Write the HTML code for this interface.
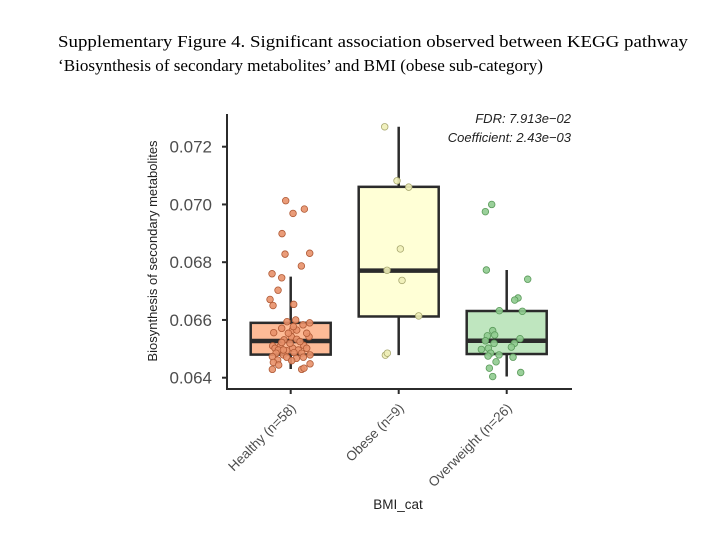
<!DOCTYPE html>
<html><head><meta charset="utf-8"><style>
html,body{margin:0;padding:0;background:#fff;}
svg{display:block;}
</style></head><body>
<svg id="chart" width="720" height="540" xmlns="http://www.w3.org/2000/svg">
<rect width="720" height="540" fill="#fff"/>
<text x="58" y="47" font-family="Liberation Serif, serif" font-size="17" textLength="630" lengthAdjust="spacingAndGlyphs">Supplementary Figure 4. Significant association observed between KEGG pathway</text>
<text x="58" y="71" font-family="Liberation Serif, serif" font-size="17" textLength="485" lengthAdjust="spacingAndGlyphs">‘Biosynthesis of secondary metabolites’ and BMI (obese sub-category)</text>
<g id="plot"></g>
</svg>
<script>
const categories = ["Healthy (n=58)", "Obese (n=9)", "Overweight (n=26)"];
const fills = ["#fdbb97", "#ffffd6", "#bfe6bf"];
const pointFills = ["#e8916a", "#f0f0b8", "#8fcb8f"];
const pointStrokes = ["#b05a36", "#a8a870", "#5a9a5a"];
const yTicks = [0.064, 0.066, 0.068, 0.070, 0.072];
const yTickLabels = ["0.064", "0.066", "0.068", "0.070", "0.072"];
const q1 = [0.0648, 0.06612, 0.06482];
const q3 = [0.0659, 0.07061, 0.06631];
const medians = [0.06527, 0.06771, 0.06528];
const whiskLow = [0.0643, 0.06478, 0.06404];
const whiskHigh = [0.0675, 0.07269, 0.06773];
const healthyVals = [0.07013,0.06984,0.06969,0.06899,0.06828,0.06831,0.06787,0.0676,0.06746,0.06703,0.06671,0.0665,0.06654,0.06594,0.066,0.0659,0.06583,0.06571,0.06565,0.06556,0.06542,0.06542,0.06533,0.06531,0.0651,0.06508,0.06512,0.06502,0.06502,0.06502,0.06496,0.06494,0.06496,0.06485,0.06485,0.06479,0.06487,0.06473,0.06479,0.06471,0.06467,0.06471,0.06461,0.06453,0.06459,0.06444,0.06448,0.06429,0.06429,0.06433,0.06519,0.06525,0.06522,0.06554,0.06565,0.06554,0.06577,0.06496];
const healthyJitter = [-15,41,7,-26,-17,57,32,-56,-27,-38,-62,-53,9,-11,15,57,37,-27,5,-51,55,2,18,-20,-54,-32,39,-47,6,48,-37,-12,23,-44,33,-22,10,-55,58,-12,17,38,-39,-52,3,-36,58,-55,33,40,-2,28,-27,-7,18,48,8,-22].map(v=>v/324);
const obeseVals = [0.07269,0.07082,0.0706,0.06846,0.06772,0.06737,0.06614,0.06478,0.06485];
const obeseJitter = [-42,-5,30,5,-35,10,60,-40,-34].map(v=>v/324);
const overVals = [0.07,0.06975,0.06773,0.06741,0.06676,0.06669,0.06632,0.0663,0.06563,0.06545,0.06548,0.06528,0.06519,0.06519,0.06506,0.06502,0.06498,0.06535,0.06485,0.06479,0.06475,0.06471,0.06455,0.06433,0.06418,0.06404];
const overJitter = [-45,-64,-61,63,34,24,-22,47,-42,-58,-36,-64,-38,23,14,-55,-76,40,-48,-23,-56,19,-32,-52,42,-42].map(v=>v/324);
const groups = [[healthyVals, healthyJitter],[obeseVals, obeseJitter],[overVals, overJitter]];

const NS = "http://www.w3.org/2000/svg";
const plot = document.getElementById("plot");
const axL = 227, axB = 389, axT = 114, axR = 572;
const band = 108, x0 = 290.7;
function xS(i){ return x0 + i*band; }
function yS(v){ return 146.7 + (0.072 - v)*28875; }
function mk(tag, attrs, parent){
  const e = document.createElementNS(NS, tag);
  for (const k in attrs) e.setAttribute(k, attrs[k]);
  (parent||plot).appendChild(e);
  return e;
}
const dark = "#2b2b2b";
let e;
e = mk("line",{x1:axL,y1:axT,x2:axL,y2:axB+1,stroke:dark,"stroke-width":2});


e = mk("line",{x1:axL-1,y1:axB,x2:axR,y2:axB,stroke:dark,"stroke-width":2});


yTicks.forEach((t,i)=>{
  const y = yS(t);
  const tk = mk("line",{x1:axL-5,y1:y,x2:axL,y2:y,stroke:dark,"stroke-width":2});
  
  
  const tl = mk("text",{x:212,y:y+6,"text-anchor":"end","font-family":"Liberation Sans, sans-serif","font-size":17,fill:"#4d4d4d"});
  tl.textContent = yTickLabels[i];
  
  
});
const yt = mk("text",{x:0,y:0,transform:"translate(157,251) rotate(-90)","text-anchor":"middle","font-family":"Liberation Sans, sans-serif","font-size":13,fill:"#222"});
yt.textContent = "Biosynthesis of secondary metabolites";


categories.forEach((c,i)=>{
  const x = xS(i);
  const tk = mk("line",{x1:x,y1:axB,x2:x,y2:axB+5,stroke:dark,"stroke-width":2});
  
  
  const tl = mk("text",{x:0,y:0,transform:`translate(${x+6},${axB+20}) rotate(-45)`,"text-anchor":"end","font-family":"Liberation Sans, sans-serif","font-size":13.5,fill:"#4d4d4d"});
  tl.textContent = c;
  
  
});
const xt = mk("text",{x:398,y:509,"text-anchor":"middle","font-family":"Liberation Sans, sans-serif","font-size":13.5,fill:"#222"});
xt.textContent = "BMI_cat";


categories.forEach((c,i)=>{
  const x = xS(i), w = 80;
  const wl = mk("line",{x1:x,y1:yS(whiskHigh[i]),x2:x,y2:yS(whiskLow[i]),stroke:dark,"stroke-width":2.5});
  
  
  const b = mk("rect",{x:x-w/2,y:yS(q3[i]),width:w,height:yS(q1[i])-yS(q3[i]),fill:fills[i],stroke:dark,"stroke-width":2.5});
  
  
  const m = mk("line",{x1:x-w/2,y1:yS(medians[i]),x2:x+w/2,y2:yS(medians[i]),stroke:dark,"stroke-width":4.5});
  
  
});
groups.forEach((g,i)=>{
  g[0].forEach((v,j)=>{
    const p = mk("circle",{cx:xS(i)+g[1][j]*band,cy:yS(v),r:3.3,fill:pointFills[i],stroke:pointStrokes[i],"stroke-width":0.8,"fill-opacity":0.9});
    
    
  });
});
const a1 = mk("text",{x:571,y:123,"text-anchor":"end","font-family":"Liberation Sans, sans-serif","font-size":13,"font-style":"italic",fill:"#222"});
a1.textContent = "FDR: 7.913e−02";


const a2 = mk("text",{x:571,y:142,"text-anchor":"end","font-family":"Liberation Sans, sans-serif","font-size":13,"font-style":"italic",fill:"#222"});
a2.textContent = "Coefficient: 2.43e−03";


</script>
</body></html>
